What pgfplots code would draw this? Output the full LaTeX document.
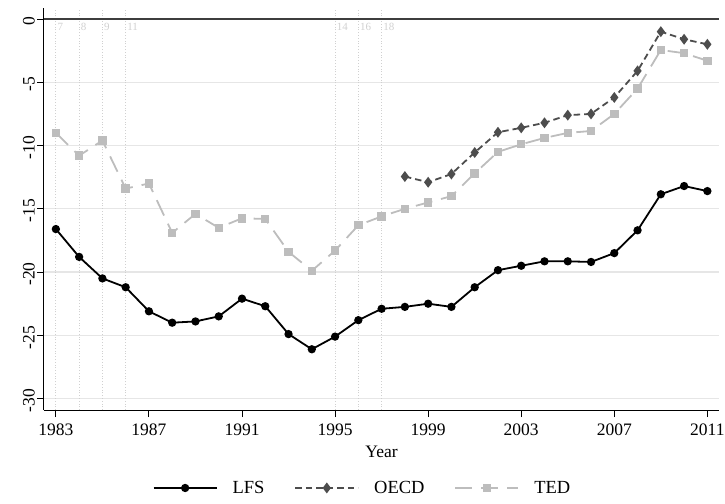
\documentclass[border=0pt]{standalone}
\usepackage{fontspec}
\setmainfont{Liberation Serif}
\usepackage{pgfplots}
\pgfplotsset{compat=1.18}
\newcommand\fs{\fontsize{17.5bp}{20bp}\selectfont}
\newcommand\fsl{\fontsize{18.5bp}{21bp}\selectfont}
\newcommand\fss{\fontsize{11bp}{13bp}\selectfont}
\definecolor{oecd}{HTML}{4D4D4D}
\definecolor{ted}{HTML}{BDBDBD}
\definecolor{gridc}{HTML}{E6E6E6}
\definecolor{refc}{HTML}{D0D0D0}
\begin{document}
\begin{tikzpicture}
\begin{axis}[
  scale only axis, width=675bp, height=402bp,
  xmin=1982.49, xmax=2011.5, ymin=-30.9, ymax=0.87,
  axis x line*=bottom, axis y line*=left,
  axis line style={-, line width=1bp, black},
  xtick={1983,1987,1991,1995,1999,2003,2007,2011},
  xticklabels={1983,1987,1991,1995,1999,2003,2007,2011},
  ytick={-30,-25,-20,-15,-10,-5,0},
  yticklabels={-30,-25,-20,-15,-10,-5,0},
  tick align=outside, major tick length=7bp,
  tick style={line width=1bp, black},
  xtick pos=bottom, ytick pos=left,
  ymajorgrids, major grid style={gridc, line width=1.2bp},
  ticklabel style={font=\fs},
  yticklabel style={rotate=90, anchor=south, inner sep=2bp, xshift=-2bp},
  xticklabel style={inner sep=2bp, yshift=-5bp},
  xlabel={Year}, xlabel style={font=\fs, at={(axis description cs:0.5,-0.117)}, anchor=base},
  legend style={at={(0.4719,-0.194)}, anchor=center, legend columns=3, draw=none, font=\fsl,
    /tikz/every odd column/.append style={column sep=13bp},
    /tikz/every even column/.append style={column sep=28bp}},
  legend image code/.code={\draw[mark repeat=2,mark phase=2,#1] plot coordinates {(0bp,0bp) (31.5bp,0bp) (63bp,0bp)};},
  clip=false,
]
\foreach \yr/\lab in {1983/7,1984/8,1985/9,1986/11,1995/14,1996/16,1997/18}{
  \edef\tmp{\noexpand\draw[refc, dotted, line width=0.8bp] (axis cs:\yr,-30.9) -- (axis cs:\yr,0.87);
  \noexpand\node[anchor=west, text=refc, font=\noexpand\fss, inner sep=1.5bp] at (axis cs:\yr,-0.65) {\lab};}
  \tmp
}
\draw[oecd!80!black, line width=1.2bp] (axis cs:1982.49,0) -- (axis cs:2011.5,0);
\addplot[black, line width=1.8bp, mark=*, mark size=3.2bp] coordinates {
(1983,-16.6) (1984,-18.8) (1985,-20.5) (1986,-21.2) (1987,-23.1) (1988,-24.0) (1989,-23.9) (1990,-23.5)
(1991,-22.1) (1992,-22.7) (1993,-24.9) (1994,-26.1) (1995,-25.1) (1996,-23.8) (1997,-22.9) (1998,-22.75)
(1999,-22.5) (2000,-22.75) (2001,-21.2) (2002,-19.85) (2003,-19.5) (2004,-19.15) (2005,-19.15) (2006,-19.2)
(2007,-18.5) (2008,-16.7) (2009,-13.85) (2010,-13.2) (2011,-13.6)};
\addlegendentry{LFS}
\addplot[oecd, line width=1.8bp, dash pattern=on 6.5bp off 4bp, mark=diamond*, mark size=4bp, mark options={solid}] coordinates {
(1998,-12.45) (1999,-12.9) (2000,-12.25) (2001,-10.55) (2002,-8.95) (2003,-8.6) (2004,-8.2) (2005,-7.6)
(2006,-7.5) (2007,-6.2) (2008,-4.1) (2009,-1.0) (2010,-1.6) (2011,-2.0)};
\addlegendentry{OECD}
\addplot[ted, line width=1.8bp, dash pattern=on 17bp off 9bp, mark=square*, mark size=3.3bp, mark options={solid}] coordinates {
(1983,-9.0) (1984,-10.8) (1985,-9.6) (1986,-13.4) (1987,-13.0) (1988,-16.9) (1989,-15.4) (1990,-16.5)
(1991,-15.75) (1992,-15.8) (1993,-18.4) (1994,-19.9) (1995,-18.3) (1996,-16.3) (1997,-15.6) (1998,-15.0)
(1999,-14.5) (2000,-14.0) (2001,-12.2) (2002,-10.5) (2003,-9.9) (2004,-9.4) (2005,-9.0) (2006,-8.85)
(2007,-7.5) (2008,-5.5) (2009,-2.45) (2010,-2.7) (2011,-3.3)};
\addlegendentry{TED}
\coordinate (SW) at (rel axis cs:0,0);
\end{axis}
\pgfresetboundingbox
\path[use as bounding box] (SW) ++(-44bp,-94bp) rectangle ++(725bp,504bp);
\end{tikzpicture}
\end{document}
